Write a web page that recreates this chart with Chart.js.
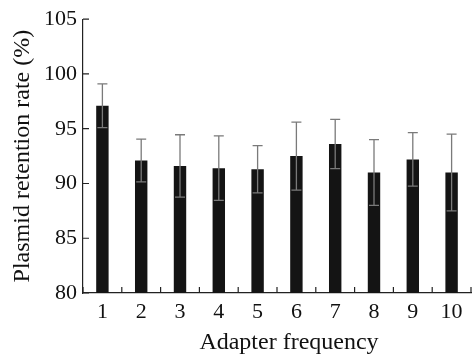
<!DOCTYPE html>
<html>
<head>
<meta charset="utf-8">
<script src="https://cdn.jsdelivr.net/npm/chart.js@4/dist/chart.umd.min.js"></script>
<style>
  html, body { margin: 0; padding: 0; background: #fff; }
  #box { width: 472px; height: 357px; }
</style>
</head>
<body>
<div id="box"><canvas id="grafico" width="472" height="357"></canvas></div>
<script>
/* Plasmid retention rate vs adapter frequency — bars (mean) + SD error bars */

const CATEGORIAS = ["1", "2", "3", "4", "5", "6", "7", "8", "9", "10"];
const MEDIAS = [97.1, 92.1, 91.6, 91.4, 91.3, 92.5, 93.6, 91.0, 92.2, 91.0];
const DESVIO = [2.0, 1.95, 2.85, 2.95, 2.15, 3.1, 2.25, 3.0, 2.45, 3.5];
const Y_TICKS = [80, 85, 90, 95, 100, 105];

const FONTE = "'Liberation Serif', 'DejaVu Serif', serif";
const COR_TEXTO = "#111";
const COR_EIXO = "#222";

// barras de erro + marcas internas dos eixos (ticks apontam para dentro)
const marcas = {
  id: "marcas",
  afterDatasetsDraw(chart) {
    const { ctx, scales: { x, y }, chartArea: a } = chart;
    ctx.save();
    ctx.strokeStyle = "#7a7a7a";
    ctx.lineWidth = 1.3;
    MEDIAS.forEach((m, i) => {
      const px = x.getPixelForValue(i);
      const yt = y.getPixelForValue(m + DESVIO[i]);
      const yb = y.getPixelForValue(m - DESVIO[i]);
      ctx.beginPath();
      ctx.moveTo(px, yt); ctx.lineTo(px, yb);
      ctx.moveTo(px - 5, yt); ctx.lineTo(px + 5, yt);
      ctx.moveTo(px - 5, yb); ctx.lineTo(px + 5, yb);
      ctx.stroke();
    });
    ctx.strokeStyle = COR_EIXO;
    ctx.lineWidth = 1.2;
    ctx.beginPath();
    Y_TICKS.forEach((v) => {
      const py = y.getPixelForValue(v);
      ctx.moveTo(a.left, py); ctx.lineTo(a.left + 6, py);
    });
    for (let i = 0; i <= CATEGORIAS.length; i++) {
      const px = x.getPixelForValue(i - 0.5);
      ctx.moveTo(px, a.bottom); ctx.lineTo(px, a.bottom - 6);
    }
    ctx.stroke();
    // título do eixo x (levemente deslocado à direita, como no original)
    ctx.fillStyle = COR_TEXTO;
    ctx.font = `24px ${FONTE}`;
    ctx.textAlign = "center";
    ctx.textBaseline = "alphabetic";
    ctx.fillText("Adapter frequency", (a.left + a.right) / 2 + 12, 349);
    ctx.restore();
  },
};

new Chart(document.getElementById("grafico"), {
  type: "bar",
  data: {
    labels: CATEGORIAS,
    datasets: [{
      data: MEDIAS,
      backgroundColor: "#141414",
      borderWidth: 0,
      categoryPercentage: 1,
      barPercentage: 0.32,
    }],
  },
  options: {
    responsive: false,
    animation: false,
    layout: { padding: { top: 15, right: 1, left: 0, bottom: 0 } },
    plugins: { legend: { display: false }, tooltip: { enabled: false } },
    scales: {
      x: {
        grid: { display: false, tickLength: 0 },
        border: { display: true, color: COR_EIXO, width: 1.2 },
        ticks: { color: COR_TEXTO, font: { family: FONTE, size: 22 }, padding: 6, maxRotation: 0 },
        afterFit: (s) => { s.height = 64; },
      },
      y: {
        min: 80, max: 105,
        grid: { display: false, tickLength: 0 },
        border: { display: true, color: COR_EIXO, width: 1.2 },
        ticks: { stepSize: 5, color: COR_TEXTO, font: { family: FONTE, size: 22 }, padding: 6 },
        title: {
          display: true, text: "Plasmid retention rate (%)", color: COR_TEXTO,
          font: { family: FONTE, size: 24 }, padding: { top: 8, bottom: 0 },
        },
        afterFit: (s) => { s.width = 83; },
      },
    },
  },
  plugins: [marcas],
});
</script>
</body>
</html>
